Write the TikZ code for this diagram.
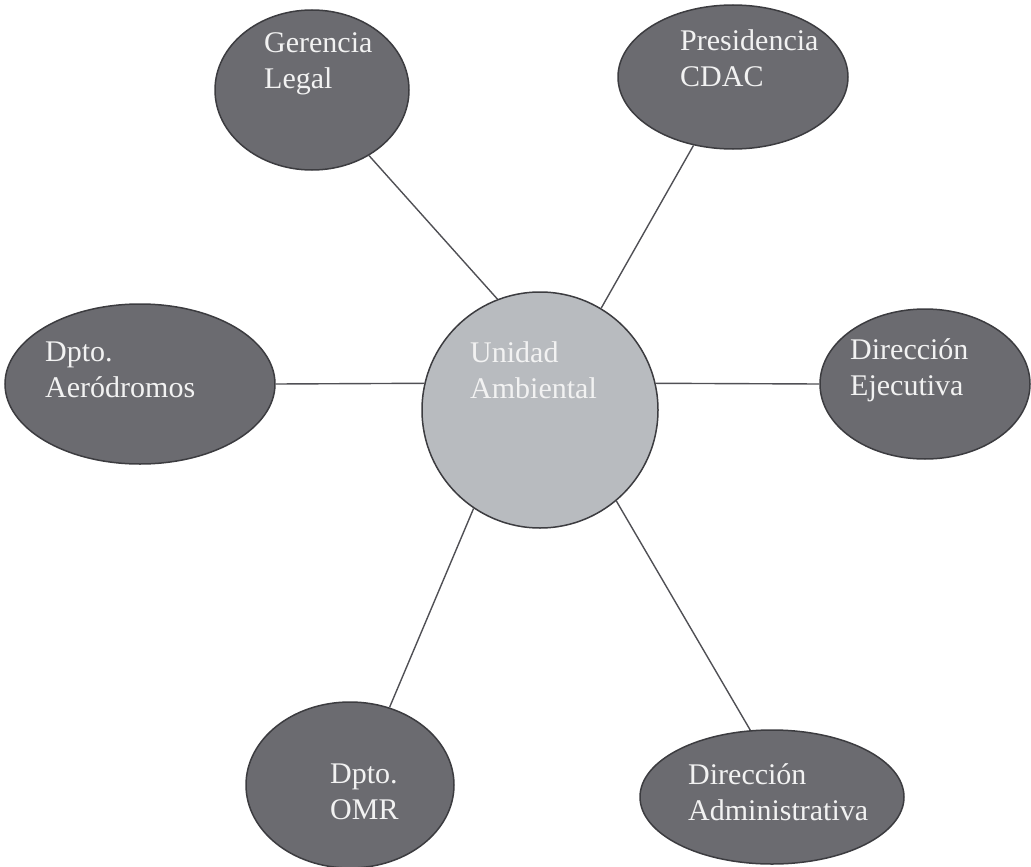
\documentclass[tikz,border=0pt]{standalone}
\usepackage{fontspec}
\setmainfont{Liberation Serif}
\usetikzlibrary{shapes.geometric}
\definecolor{ellfill}{HTML}{6B6B70}
\definecolor{ellline}{HTML}{3C3C40}
\definecolor{cirfill}{HTML}{B8BBBF}
\definecolor{txt}{HTML}{F2F2F2}
\definecolor{conn}{HTML}{505055}
\begin{document}
\begin{tikzpicture}[x=1pt,y=-1pt,
  unit/.style={ellipse, draw=ellline, line width=1.5pt, fill=ellfill, inner sep=0pt},
  hub/.style={circle, draw=ellline, line width=1.5pt, fill=cirfill, inner sep=0pt, minimum size=236pt},
  lbl/.style={text=txt, font=\fontsize{30}{36}\selectfont, align=left, anchor=west, inner sep=0pt},
  link/.style={draw=conn, line width=1.4pt}]
\useasboundingbox (0,0) rectangle (1031,867);
% nodes
\node[unit, minimum width=194pt, minimum height=160pt] (gl) at (312,90) {};
\node[unit, minimum width=230pt, minimum height=144pt] (pc) at (733,77) {};
\node[hub] (ua) at (540,410) {};
\node[unit, minimum width=270pt, minimum height=160pt] (da) at (140,384) {};
\node[unit, minimum width=210pt, minimum height=150pt] (de) at (925,384) {};
\node[unit, minimum width=208pt, minimum height=166pt] (omr) at (350,785) {};
\node[unit, minimum width=264pt, minimum height=134pt] (dadm) at (772,797) {};
% labels
\node[lbl] (glt) at (264,64) {Gerencia\\Legal};
\node[lbl] (pct) at (680,58) {Presidencia\\CDAC};
\node[lbl] (uat) at (470,370) {Unidad\\Ambiental};
\node[lbl] (dat) at (45,370) {Dpto.\\Aeródromos};
\node[lbl] (det) at (850,370) {Dirección\\Ejecutiva};
\node[lbl] (omrt) at (330,792) {Dpto.\\OMR};
\node[lbl] (dadmt) at (688,792) {Dirección\\Administrativa};
% connectors
\draw[link] (gl.-49) -- (ua.111);
\draw[link] (pc.240) -- (ua.59);
\draw[link] (da.east) -- (ua.167);
\draw[link] (de.west) -- (ua.13);
\draw[link] (omr.63) -- (ua.236);
\draw[link] (dadm.108) -- (ua.-50);
\end{tikzpicture}
\end{document}
